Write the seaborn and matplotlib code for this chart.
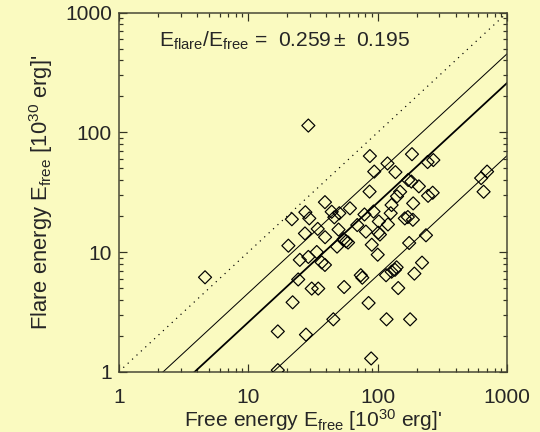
import matplotlib
matplotlib.use('Agg')
import matplotlib.pyplot as plt
import matplotlib.ticker as mticker
import seaborn as sns
import numpy as np
import pandas as pd

# free energy vs flare energy, units of 1e30 erg
e_free = [29.1, 4.63, 87, 184, 119, 243, 269, 94, 137, 700,
          630, 658, 172, 182, 208, 86.5, 149, 141, 245, 266,
          39.1, 128, 188, 27.6, 29.6, 21.7, 44.1, 46.2, 50.5, 61,
          79, 92.8, 126, 162, 171, 187, 69.5, 102, 120, 27.4,
          34.4, 39.2, 49.8, 54.5, 57, 59, 81, 101, 104, 90,
          100, 236, 175, 20.4, 48.5, 33.8, 29.1, 25, 36.9, 39.1,
          24.3, 30.9, 34.7, 55, 74, 76, 116, 128, 136, 140,
          192, 220, 144, 22, 85, 45.4, 117, 178, 16.9, 27.9,
          89, 16.9]
e_flare = [114, 6.15, 63.4, 65.7, 55, 56.5, 58.7, 47, 46.5, 47,
           41.5, 31.9, 40, 38.8, 35.4, 32, 31.9, 29.2, 29.5, 31.3,
           26.1, 24.7, 25.5, 21.5, 19.1, 18.8, 21.7, 19.5, 21.1, 23.2,
           20.6, 21.8, 21.1, 19.1, 19.6, 18.6, 16.8, 18, 17, 14.3,
           15.6, 13.3, 15.4, 12.8, 12.3, 12.0, 14.8, 14.5, 14, 11.5,
           9.5, 13.8, 11.9, 11.3, 11.1, 10, 9.1, 8.6, 8.2, 7.8,
           5.9, 4.95, 4.95, 5.1, 6.4, 6.1, 6.4, 6.85, 7.1, 7.45,
           6.6, 8.15, 5.0, 3.8, 3.75, 2.74, 2.74, 2.74, 2.17, 2.04,
           1.29, 1.03]

ratio_mean = 0.259
ratio_sd = 0.195
x_line = [1, 1000]
tick_vals = [1, 10, 100, 1000]
tick_labels = ['1', '10', '100', '1000']

bg = '#FAFAC0'
sns.set_style('ticks')
plt.rcParams['font.family'] = ['Liberation Sans', 'DejaVu Sans']
plt.rcParams['mathtext.fontset'] = 'custom'
plt.rcParams['mathtext.rm'] = 'Liberation Sans'
plt.rcParams['mathtext.it'] = 'Liberation Sans'

df = pd.DataFrame({'free': e_free, 'flare': e_flare})

fig = plt.figure(figsize=(7.5, 6), dpi=72, facecolor=bg)
ax = fig.add_axes([0.2202, 0.1396, 0.7189, 0.831], facecolor=bg)

# 1:1 line and ratio lines
xl = np.array(x_line, dtype=float)
ax.plot(xl, xl, color='black', lw=1.2, linestyle=(0, (1, 4)))
ax.plot(xl, xl * ratio_mean, color='black', lw=1.8)
ax.plot(xl, xl * (ratio_mean + ratio_sd), color='black', lw=1.0)
ax.plot(xl, xl * (ratio_mean - ratio_sd), color='black', lw=1.0)

sns.scatterplot(data=df, x='free', y='flare', ax=ax, marker='D', s=85,
                facecolors='none', edgecolors='black', linewidth=1.2,
                zorder=3, clip_on=True)

ax.set_xscale('log')
ax.set_yscale('log')
ax.set_xlim(1, 1000)
ax.set_ylim(1, 1000)
ax.xaxis.set_major_locator(mticker.FixedLocator(tick_vals))
ax.yaxis.set_major_locator(mticker.FixedLocator(tick_vals))
ax.xaxis.set_major_formatter(mticker.FixedFormatter(tick_labels))
ax.yaxis.set_major_formatter(mticker.FixedFormatter(tick_labels))
ax.xaxis.set_minor_locator(mticker.LogLocator(base=10, subs=np.arange(2, 10)))
ax.yaxis.set_minor_locator(mticker.LogLocator(base=10, subs=np.arange(2, 10)))
ax.xaxis.set_minor_formatter(mticker.NullFormatter())
ax.yaxis.set_minor_formatter(mticker.NullFormatter())

for s in ax.spines.values():
    s.set_visible(True)
    s.set_color('#444433')
    s.set_linewidth(1.5)
ax.tick_params(which='both', direction='in', top=True, right=True,
               color='#333322', width=1.2)
ax.tick_params(which='major', length=8)
ax.tick_params(which='minor', length=4)
ax.tick_params(axis='x', which='major', labelsize=21, pad=16)
ax.tick_params(axis='y', which='major', labelsize=21, pad=7)

ax.set_xlabel(r"Free energy E$_{\mathrm{free}}$ [10$^{30}$ erg]'", fontsize=21, labelpad=0)
ax.set_ylabel(r"Flare energy E$_{\mathrm{free}}$ [10$^{30}$ erg]'", fontsize=22, labelpad=10)

ax.text(0.103, 0.904, r"E$_{\mathrm{flare}}$/E$_{\mathrm{free}}$ =  0.259$\,$±  0.195",
        transform=ax.transAxes, fontsize=21, ha='left', va='baseline')

fig.savefig('out.png', dpi=72, facecolor=bg)
